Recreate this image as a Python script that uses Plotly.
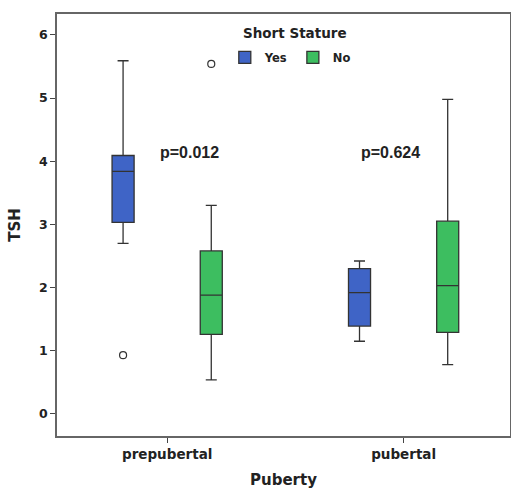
import plotly.graph_objects as go

categories = ["prepubertal", "pubertal"]
groups = ["Yes", "No"]

yes_lower = [2.70, 1.15]
yes_q1 = [3.03, 1.39]
yes_median = [3.84, 1.92]
yes_q3 = [4.09, 2.30]
yes_upper = [5.59, 2.42]
yes_outliers = [[0.93], []]

no_lower = [0.54, 0.78]
no_q1 = [1.26, 1.29]
no_median = [1.88, 2.03]
no_q3 = [2.58, 3.05]
no_upper = [3.30, 4.98]
no_outliers = [[5.54], []]

p_labels = ["p=0.012", "p=0.624"]
p_y = [4.14, 4.14]
legend_title = "Short Stature"

font_family = "DejaVu Sans, Verdana, sans-serif"
p_shift = [22, -13]

fig = go.Figure()
for name, lo, q1, med, q3, up, outs, fill in [
    ("Yes", yes_lower, yes_q1, yes_median, yes_q3, yes_upper, yes_outliers, "#3F64C6"),
    ("No", no_lower, no_q1, no_median, no_q3, no_upper, no_outliers, "#3DBE60"),
]:
    fig.add_trace(go.Box(
        name="<b>" + name + "</b>",
        x=categories,
        y=outs,
        q1=q1, median=med, q3=q3,
        lowerfence=lo, upperfence=up,
        boxpoints="outliers",
        pointpos=0, jitter=0,
        marker=dict(symbol="circle-open", color="#333333", size=7, line=dict(width=1.2)),
        fillcolor=fill,
        line=dict(color="#333333", width=1.3),
        whiskerwidth=0.5,
    ))

for cat, txt, yv, sh in zip(categories, p_labels, p_y, p_shift):
    fig.add_annotation(x=cat, y=yv, text="<b>" + txt + "</b>", showarrow=False,
                       xshift=sh, font=dict(size=16, color="#222222",
                                            family="Liberation Sans, Arial, sans-serif"))

fig.add_annotation(xref="paper", yref="paper", x=0.525, y=1.0, yshift=-19,
                   yanchor="middle", xanchor="center", showarrow=False,
                   text="<b>" + legend_title + "</b>",
                   font=dict(size=13.5, color="#222222", family=font_family))

fig.update_layout(
    width=511, height=489,
    margin=dict(l=57, r=1, t=14, b=53),
    paper_bgcolor="white", plot_bgcolor="white",
    boxmode="group", boxgap=0.254, boxgroupgap=0.75,
    font=dict(family=font_family, color="#222222"),
    showlegend=True,
    legend=dict(
        orientation="h", x=0.515, xanchor="center", y=0.897, yanchor="middle",
        font=dict(size=11.5), bgcolor="rgba(0,0,0,0)", itemwidth=30,
    ),
    xaxis=dict(
        title=dict(text="<b>Puberty</b>", font=dict(size=15)),
        range=[-0.466, 1.45], automargin=False,
        tickfont=dict(size=13.5), tickprefix="<b>", ticksuffix="</b>",
        showline=True, linecolor="#666666", linewidth=1.5, mirror=True,
        ticks="outside", ticklen=5, tickcolor="#444444", showgrid=False,
    ),
    yaxis=dict(
        title=dict(text="<b>TSH</b>", font=dict(size=15)),
        range=[-0.35, 6.33], dtick=1, tickfont=dict(size=12.5), automargin=False,
        tickprefix="<b>", ticksuffix="</b>",
        showline=True, linecolor="#666666", linewidth=1.5, mirror=True,
        ticks="outside", ticklen=5, tickcolor="#444444", showgrid=False, zeroline=False,
    ),
)

fig.write_html("out.html", post_script="document.body.style.margin='0';",
               config={"displayModeBar": False})
